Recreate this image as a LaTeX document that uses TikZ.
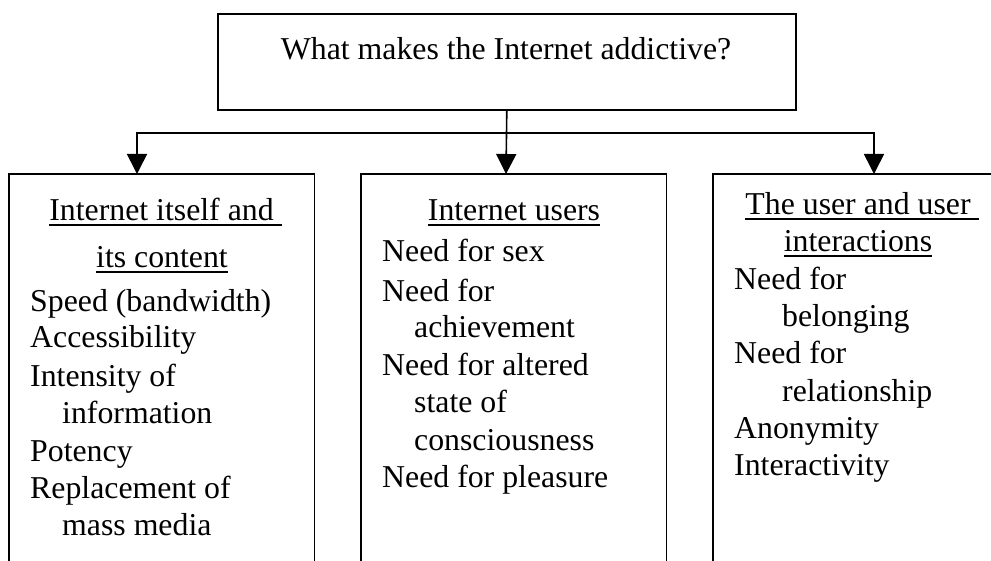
\documentclass[tikz,border=0pt]{standalone}
\usepackage{fontspec}
\setmainfont{Liberation Serif}
\usetikzlibrary{arrows.meta}
\newcommand\myul[1]{\setbox0\hbox{#1}\rlap{\rule[-5pt]{\wd0}{1.8pt}}\box0}
\tikzset{
  txt/.style={font=\fontsize{31.8pt}{37.3pt}\selectfont, inner sep=0pt, anchor=base west},
  hd/.style={font=\fontsize{31.8pt}{37.3pt}\selectfont, inner sep=0pt, anchor=base},
  frame/.style={draw=none, inner sep=0pt, anchor=north west},
  edge/.style={line width=1.6pt, line join=miter},
  arr/.style={line width=1.6pt, -{Triangle[width=20pt,length=20pt]}},
}
\begin{document}
\begin{tikzpicture}[x=1pt,y=-1pt]
\useasboundingbox (0,0) rectangle (991,561);
% top box
\node[draw, line width=1.6pt, minimum width=578pt, minimum height=96pt, inner sep=0pt, anchor=north west] (T) at (217,13) {};
\node[hd] (Tt) at (506,60) {What makes the Internet addictive?};
% lower boxes
\node[frame, minimum width=305pt, minimum height=387pt] (L) at (9,174) {};
\node[frame, minimum width=305pt, minimum height=387pt] (M) at (361,174) {};
\node[frame, minimum width=278pt, minimum height=387pt] (R) at (713,174) {};
\draw[edge] (L.south west) -- (L.north west) -- (L.north east) -- (L.south east);
\draw[edge] (M.south west) -- (M.north west) -- (M.north east) -- (M.south east);
\draw[edge] (R.south west) -- (R.north west) -- (R.north east);
% connectors
\coordinate (J) at (506,133);
\coordinate (Lt) at (137,174);
\coordinate (Mt) at (506,174);
\coordinate (Rt) at (874,174);
\draw[arr] (T.south) -- (Mt);
\draw[arr] (J) -| (Lt);
\draw[arr] (J) -| (Rt);
% left box text
\node[hd] (L1) at (165.5,221) {\myul{Internet itself and\ }};
\node[hd] (L2) at (162,268) {\myul{its content}};
\node[txt] (La) at (30,312) {Speed (bandwidth)};
\node[txt] (Lb) at (30,348) {Accessibility};
\node[txt] (Lc) at (30,386) {Intensity of};
\node[txt] (Ld) at (62,423) {information};
\node[txt] (Le) at (30,461) {Potency};
\node[txt] (Lf) at (30,498) {Replacement of};
\node[txt] (Lg) at (62,535) {mass media};
% middle box text
\node[hd] (M1) at (514,221) {\myul{Internet users}};
\node[txt] (Ma) at (382,262) {Need for sex};
\node[txt] (Mb) at (382,302) {Need for};
\node[txt] (Mc) at (414,338) {achievement};
\node[txt] (Md) at (382,375) {Need for altered};
\node[txt] (Me) at (414,412) {state of};
\node[txt] (Mf) at (414,450) {consciousness};
\node[txt] (Mg) at (382,487) {Need for pleasure};
% right box text
\node[hd] (R1) at (862,215) {\myul{The user and user\ }};
\node[hd] (R2) at (858,252) {\myul{interactions}};
\node[txt] (Ra) at (734,290) {Need for};
\node[txt] (Rb) at (782,327) {belonging};
\node[txt] (Rc) at (734,363) {Need for};
\node[txt] (Rd) at (782,402) {relationship};
\node[txt] (Re) at (734,438) {Anonymity};
\node[txt] (Rf) at (734,475) {Interactivity};
\end{tikzpicture}
\end{document}
